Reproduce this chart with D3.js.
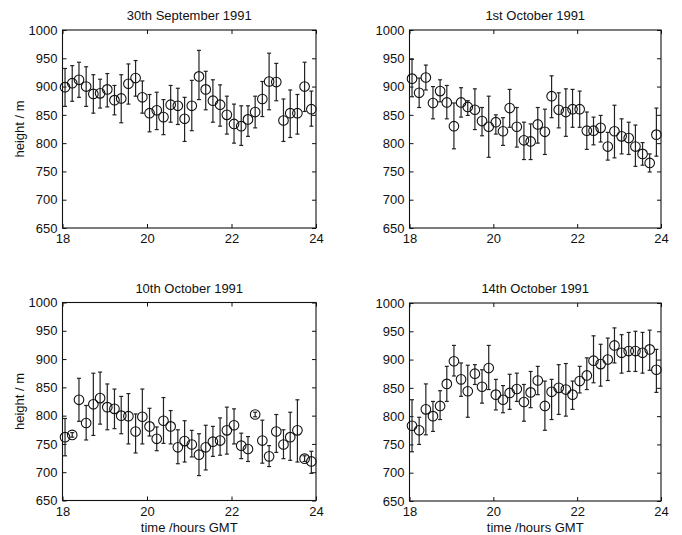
<!DOCTYPE html>
<html>
  <head>
    <meta charset="utf-8">
    <title>Height vs time, four days</title>
    <script src="https://d3js.org/d3.v7.min.js"></script>
    <style>
      body { margin: 0; background: #fff; }
      text { font-family: "Liberation Sans", Arial, Helvetica, sans-serif; font-size: 13px; fill: #111; }
      .tick line, .box { stroke: #111; }
      circle { fill: none; stroke: #111; stroke-width: 1.1px; }
      .err { stroke: #222; stroke-width: 1.2px; }
    </style>
  </head>
  <body>
    <script>

      // sample times (hours GMT), shared by every day
      var times = [18.06, 18.23, 18.39, 18.56, 18.73, 18.89, 19.06, 19.23, 19.39, 19.56, 19.73, 19.89,
                   20.06, 20.23, 20.39, 20.56, 20.73, 20.89, 21.06, 21.23, 21.39, 21.56, 21.73, 21.89,
                   22.06, 22.23, 22.39, 22.56, 22.73, 22.89, 23.06, 23.23, 23.39, 23.56, 23.73, 23.89];

      var xTicks = [18, 20, 22, 24];
      var yTicks = [650, 700, 750, 800, 850, 900, 950, 1000];

      var sep30Height = [899,906,912,900,887,888,895,876,879,905,915,881,853,858,846,868,866,843,866,918,895,875,868,850,834,830,842,855,878,909,908,840,853,853,900,860];
      var sep30Upper  = [932,937,943,935,921,913,923,902,921,940,946,910,886,890,877,902,897,881,911,964,927,912,903,883,869,866,866,883,909,959,941,878,894,886,943,892];
      var sep30Lower  = [865,874,881,865,853,862,864,850,836,869,883,853,820,824,815,837,833,803,822,877,859,837,830,816,800,796,812,827,847,859,875,803,810,816,856,830];

      var oct1Height = [914,889,916,871,892,872,830,872,864,859,839,829,837,821,862,829,805,803,833,820,883,859,855,860,860,822,822,827,794,821,812,809,794,781,765,815];
      var oct1Upper  = [948,915,938,900,912,902,871,898,875,896,863,883,850,845,895,863,837,834,863,860,919,889,896,895,892,855,846,849,819,867,843,837,832,801,781,862];
      var oct1Lower  = [882,863,894,843,873,843,790,846,849,824,813,775,816,796,828,793,771,771,800,780,845,827,812,828,828,789,797,802,770,774,781,780,759,761,749,777];

      var oct10Height = [762,766,828,787,820,831,815,812,800,799,772,798,781,759,791,781,744,755,749,731,744,754,756,774,783,747,741,802,756,728,772,749,762,774,724,719];
      var oct10Upper  = [795,770,866,818,875,877,856,847,834,839,803,847,813,780,832,809,775,791,774,768,783,781,796,815,812,769,763,806,792,747,802,775,806,828,729,737];
      var oct10Lower  = [729,762,790,757,765,785,775,777,768,750,734,750,764,738,751,750,715,718,727,694,704,728,730,732,750,724,719,798,716,710,735,724,721,718,719,698];

      var oct14Height = [783,775,812,800,818,857,897,865,844,875,852,885,838,829,841,848,825,842,863,818,843,850,847,838,862,872,898,892,900,925,912,915,915,912,918,882];
      var oct14Upper  = [829,798,857,826,845,888,925,894,890,891,882,925,865,854,874,876,856,879,888,862,865,891,893,862,888,903,942,927,938,956,944,948,950,948,952,918];
      var oct14Lower  = [737,750,767,773,794,826,871,835,798,856,823,847,811,806,812,826,791,815,838,775,794,803,800,812,841,847,859,853,863,894,876,879,879,876,881,842];

      var width = 682, height = 535;

      var svg = d3.select("body").append("svg")
        .attr("width", width)
        .attr("height", height);

      svg.append("rect").attr("width", width).attr("height", height).attr("fill", "#fff");

      var panels = [
        {title: "30th September 1991", h: sep30Height, hi: sep30Upper, lo: sep30Lower, left: 62.5, right: 316, top: 30, bottom: 228, yLab: true, xLab: false},
        {title: "1st October 1991",    h: oct1Height,  hi: oct1Upper,  lo: oct1Lower,  left: 409.5, right: 661, top: 30, bottom: 228, yLab: false, xLab: false},
        {title: "10th October 1991",   h: oct10Height, hi: oct10Upper, lo: oct10Lower, left: 62.5, right: 316, top: 302.5, bottom: 500.5, yLab: true, xLab: true},
        {title: "14th October 1991",   h: oct14Height, hi: oct14Upper, lo: oct14Lower, left: 409.5, right: 661, top: 303, bottom: 501, yLab: false, xLab: true}
      ];

      var fmt = d3.format("d");

      panels.forEach(function (p) {
        var x = d3.scaleLinear().domain([18, 24]).range([p.left, p.right]);
        var y = d3.scaleLinear().domain([650, 1000]).range([p.bottom, p.top]);
        var g = svg.append("g");

        // inward ticks on all four sides, labels on left and bottom only
        g.append("g").attr("transform", "translate(0," + p.bottom + ")")
          .call(d3.axisBottom(x).tickValues(xTicks).tickFormat(fmt).tickSizeInner(-4).tickSizeOuter(0).tickPadding(6));
        g.append("g").attr("transform", "translate(0," + p.top + ")")
          .call(d3.axisTop(x).tickValues(xTicks).tickSizeInner(-4).tickSizeOuter(0).tickFormat(""));
        g.append("g").attr("transform", "translate(" + p.left + ",0)")
          .call(d3.axisLeft(y).tickValues(yTicks).tickFormat(fmt).tickSizeInner(-4).tickSizeOuter(0).tickPadding(5));
        g.append("g").attr("transform", "translate(" + p.right + ",0)")
          .call(d3.axisRight(y).tickValues(yTicks).tickSizeInner(-4).tickSizeOuter(0).tickFormat(""));
        g.selectAll(".domain").remove();
        g.selectAll(".tick text").attr("fill", "#111").style("font-size", "13px");

        g.append("rect").attr("class", "box")
          .attr("x", p.left).attr("y", p.top)
          .attr("width", p.right - p.left).attr("height", p.bottom - p.top)
          .attr("fill", "none").attr("stroke-width", 1.1);

        var rows = times.map(function (t, i) { return {t: t, h: p.h[i], hi: p.hi[i], lo: p.lo[i]}; });

        var bars = g.append("g").selectAll("g").data(rows).enter().append("g").attr("class", "err");
        bars.append("line")
          .attr("x1", function (d) { return x(d.t); }).attr("x2", function (d) { return x(d.t); })
          .attr("y1", function (d) { return y(d.hi); }).attr("y2", function (d) { return y(d.lo); });
        bars.append("line")
          .attr("x1", function (d) { return x(d.t) - 2; }).attr("x2", function (d) { return x(d.t) + 2; })
          .attr("y1", function (d) { return y(d.hi); }).attr("y2", function (d) { return y(d.hi); });
        bars.append("line")
          .attr("x1", function (d) { return x(d.t) - 2; }).attr("x2", function (d) { return x(d.t) + 2; })
          .attr("y1", function (d) { return y(d.lo); }).attr("y2", function (d) { return y(d.lo); });

        g.append("g").selectAll("circle").data(rows).enter().append("circle")
          .attr("cx", function (d) { return x(d.t); })
          .attr("cy", function (d) { return y(d.h); })
          .attr("r", 4.8);

        g.append("text")
          .attr("x", (p.left + p.right) / 2).attr("y", p.top - 10)
          .attr("text-anchor", "middle")
          .text(p.title);

        if (p.yLab) {
          g.append("text")
            .attr("transform", "translate(24," + (p.top + p.bottom) / 2 + ") rotate(-90)")
            .attr("text-anchor", "middle")
            .text("height / m");
        }
        if (p.xLab) {
          g.append("text")
            .attr("x", (p.left + p.right) / 2).attr("y", p.bottom + 31)
            .attr("text-anchor", "middle")
            .text("time /hours GMT");
        }
      });

    </script>
  </body>
</html>
